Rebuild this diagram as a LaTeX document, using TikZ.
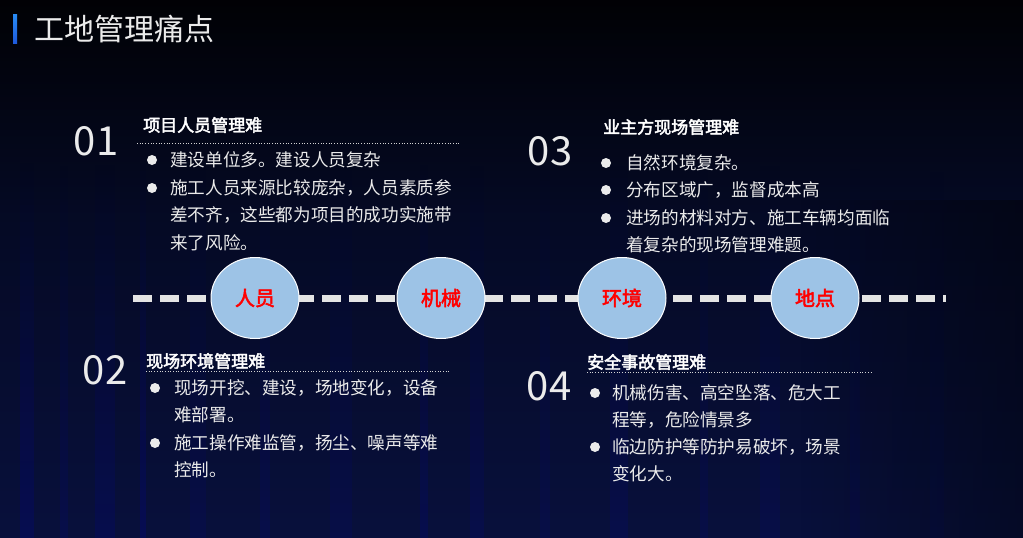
\documentclass[tikz,border=0pt]{standalone}
\usepackage{fontspec}
\setmainfont{Noto Sans CJK SC}
\newfontfamily\cjk{Noto Sans CJK SC}
\newfontfamily\cjkb[FakeBold=2.6]{Noto Sans CJK SC}
\usetikzlibrary{shapes.geometric,fadings}
\definecolor{navy}{RGB}{14,32,110}
\definecolor{midnavy}{RGB}{8,16,60}
\definecolor{ovalfill}{RGB}{157,195,230}
\definecolor{txt}{RGB}{235,235,235}
\definecolor{dashc}{RGB}{228,228,228}
\definecolor{barA}{RGB}{30,90,220}
\definecolor{barB}{RGB}{40,140,245}
\pgfdeclareverticalshading{bgshade}{100bp}{color(0bp)=(navy); color(25bp)=(midnavy); color(55bp)=(midnavy!60!black); color(78bp)=(black); color(100bp)=(black)}
\tikzset{
  title/.style={anchor=west, inner sep=0pt, text=txt, font=\cjk\fontsize{30}{32}\selectfont},
  num/.style={inner sep=0pt, text=txt, font=\cjk\fontsize{40}{42}\selectfont},
  head/.style={anchor=west, inner sep=0pt, text=white, font=\cjkb\fontsize{17}{18}\selectfont},
  body/.style={anchor=west, inner sep=0pt, text=txt, font=\cjk\fontsize{17.6}{19}\selectfont},
  dot/.style={circle, fill=txt, inner sep=0pt, minimum size=10pt},
  oval/.style={ellipse, fill=ovalfill, draw=white, line width=1pt, minimum width=88pt, minimum height=81pt, inner sep=0pt, text=red, font=\cjkb\fontsize{20}{22}\selectfont},
  sep/.style={draw=gray!35, dotted, line width=0.7pt},
  dashline/.style={draw=dashc, line width=7pt, dash pattern=on 19pt off 8pt},
  streak/.style={fill=blue!70!black, path fading=north}
}
\begin{document}
\begin{tikzpicture}[x=1pt,y=-1pt]
\useasboundingbox (0,0) rectangle (1023,538);
% background
\shade[shading=bgshade] (0,0) rectangle (1023,538);
\foreach \x/\w/\o in {20/14/0.18, 60/8/0.12, 95/20/0.15, 140/6/0.2, 190/16/0.1, 260/10/0.12, 330/22/0.1, 420/8/0.15, 470/14/0.12, 540/10/0.1, 610/18/0.12, 700/8/0.1, 760/20/0.1, 850/10/0.08, 930/14/0.06}
  \fill[streak, opacity=\o] (\x,160) rectangle (\x+\w,538);
\fill[black, opacity=0.35, path fading=west] (800,200) rectangle (1023,538);
% title
\shade[top color=barB, bottom color=barA] (13,14) rectangle (17,43);
\node[title] (ttl) at (34,29) {工地管理痛点};
% timeline
\coordinate (L) at (133,298);
\coordinate (R) at (946,298);
\draw[dashline] (L) -- (R);
\node[oval] (o1) at (255,298) {人员};
\node[oval] (o2) at (441,298) {机械};
\node[oval] (o3) at (622,298) {环境};
\node[oval] (o4) at (815,298) {地点};
% group 01
\node[num] (n1) at (96,141) {01};
\node[head] (h1) at (143,125) {项目人员管理难};
\coordinate (s1a) at (137,143); \coordinate (s1b) at (460,143);
\draw[sep] (s1a) -- (s1b);
\node[dot] (d1a) at (152,160) {};
\node[dot] (d1b) at (152,188) {};
\node[body] (t1a) at (170,160) {建设单位多。建设人员复杂};
\node[body] (t1b) at (170,188) {施工人员来源比较庞杂，人员素质参};
\node[body] (t1c) at (170,215) {差不齐，这些都为项目的成功实施带};
\node[body] (t1d) at (170,243) {来了风险。};
% group 03
\node[num] (n3) at (550,151) {03};
\node[head] (h3) at (603,127) {业主方现场管理难};
\node[dot] (d3a) at (606,163) {};
\node[dot] (d3b) at (606,190) {};
\node[dot] (d3c) at (606,218) {};
\node[body] (t3a) at (626,163) {自然环境复杂。};
\node[body] (t3b) at (626,190) {分布区域广，监督成本高};
\node[body] (t3c) at (626,218) {进场的材料对方、施工车辆均面临};
\node[body] (t3d) at (626,245) {着复杂的现场管理难题。};
% group 02
\node[num] (n2) at (105,370) {02};
\node[head] (h2) at (146,361) {现场环境管理难};
\coordinate (s2a) at (146,371); \coordinate (s2b) at (450,371);
\draw[sep] (s2a) -- (s2b);
\node[dot] (d2a) at (155,388) {};
\node[dot] (d2b) at (155,443) {};
\node[body] (t2a) at (174,388) {现场开挖、建设，场地变化，设备};
\node[body] (t2b) at (174,415) {难部署。};
\node[body] (t2c) at (174,443) {施工操作难监管，扬尘、噪声等难};
\node[body] (t2d) at (174,470) {控制。};
% group 04
\node[num] (n4) at (549,386) {04};
\node[head] (h4) at (587,362) {安全事故管理难};
\coordinate (s4a) at (587,372); \coordinate (s4b) at (873,372);
\draw[sep] (s4a) -- (s4b);
\node[dot] (d4a) at (595,393) {};
\node[dot] (d4b) at (595,447) {};
\node[body] (t4a) at (612,393) {机械伤害、高空坠落、危大工};
\node[body] (t4b) at (612,420) {程等，危险情景多};
\node[body] (t4c) at (612,447) {临边防护等防护易破坏，场景};
\node[body] (t4d) at (612,474) {变化大。};
\end{tikzpicture}
\end{document}
